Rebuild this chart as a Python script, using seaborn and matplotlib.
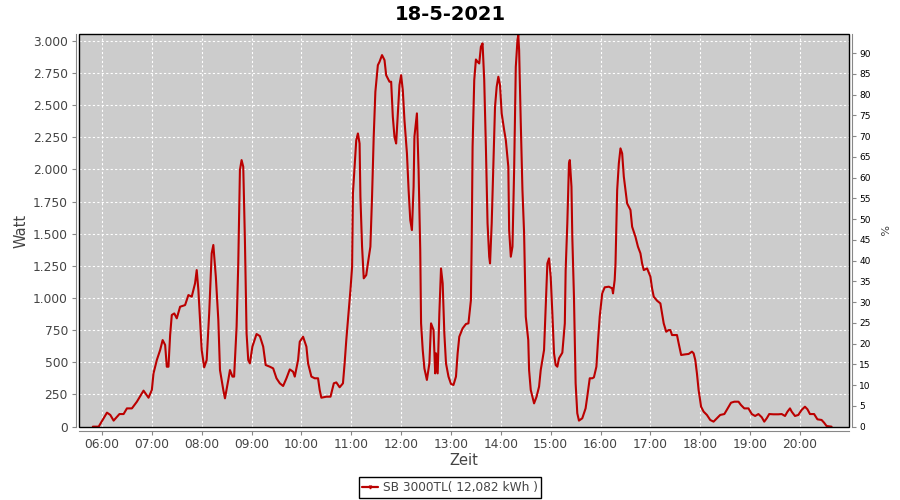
import pandas as pd
import matplotlib
matplotlib.use("Agg")
import matplotlib.pyplot as plt
import matplotlib.dates as mdates
from matplotlib.ticker import FuncFormatter, MultipleLocator
from matplotlib.patches import Rectangle
from matplotlib.lines import Line2D
import seaborn as sns

# Daten
tag = "2021-05-18"
titel = "18-5-2021"
legende = "SB 3000TL( 12,082 kWh )"
watt_pro_prozent = 32.26

zeit = [
    "05:49", "05:56", "06:06", "06:10", "06:14", "06:21", "06:26", "06:30", "06:36", "06:42", "06:50", "06:56",
    "07:00", "07:02", "07:06", "07:10", "07:13", "07:16", "07:18", "07:20", "07:22", "07:24", "07:27", "07:30",
    "07:34", "07:40", "07:44", "07:48", "07:52", "07:54", "07:56", "07:58",
    "08:00", "08:03", "08:06", "08:09", "08:12", "08:14", "08:17", "08:20", "08:22", "08:26", "08:28", "08:32",
    "08:34", "08:37", "08:39", "08:42", "08:44", "08:46", "08:48", "08:50", "08:52", "08:54", "08:56", "08:58",
    "09:01", "09:06", "09:10", "09:14", "09:17", "09:22", "09:26", "09:30", "09:34", "09:38", "09:42", "09:46",
    "09:50", "09:52", "09:56", "09:58",
    "10:02", "10:06", "10:08", "10:12", "10:16", "10:20", "10:22", "10:24", "10:30", "10:35", "10:39", "10:42",
    "10:46", "10:50", "10:52", "10:54", "10:56", "10:59",
    "11:01", "11:02", "11:04", "11:06", "11:08", "11:10", "11:11", "11:13", "11:15", "11:18", "11:20", "11:23",
    "11:25", "11:27", "11:29", "11:32", "11:34", "11:37", "11:40", "11:42", "11:46", "11:48", "11:50", "11:52",
    "11:54", "11:56", "11:58",
    "12:00", "12:02", "12:04", "12:07", "12:09", "12:11", "12:13", "12:15", "12:16", "12:19", "12:21", "12:23",
    "12:24", "12:26", "12:28", "12:31", "12:34", "12:36", "12:39", "12:41", "12:42", "12:44", "12:46", "12:48",
    "12:50", "12:52", "12:54", "12:57",
    "13:00", "13:03", "13:06", "13:08", "13:10", "13:14", "13:18", "13:21", "13:24", "13:25", "13:26", "13:28",
    "13:30", "13:32", "13:34", "13:36", "13:38", "13:40", "13:42", "13:44", "13:46", "13:47", "13:49", "13:51",
    "13:53", "13:55", "13:57", "13:59",
    "14:01", "14:04", "14:06", "14:09", "14:10", "14:12", "14:14", "14:16", "14:18", "14:20", "14:21", "14:22",
    "14:24", "14:26", "14:28", "14:30", "14:33", "14:34", "14:36", "14:40", "14:43", "14:46", "14:48", "14:52",
    "14:54", "14:56", "14:58",
    "15:00", "15:02", "15:04", "15:06", "15:08", "15:10", "15:14", "15:17", "15:18", "15:20", "15:22", "15:23",
    "15:25", "15:26", "15:28", "15:30", "15:32", "15:34", "15:38", "15:42", "15:44", "15:47", "15:50", "15:52",
    "15:55", "15:57", "15:59",
    "16:02", "16:05", "16:10", "16:14", "16:15", "16:17", "16:18", "16:20", "16:22", "16:24", "16:26", "16:28",
    "16:30", "16:32", "16:36", "16:38", "16:42", "16:45", "16:48", "16:50", "16:52", "16:56",
    "17:00", "17:02", "17:04", "17:08", "17:12", "17:14", "17:16", "17:19", "17:22", "17:24", "17:26", "17:32",
    "17:34", "17:37", "17:42", "17:46", "17:50", "17:52", "17:54", "17:56", "17:58",
    "18:01", "18:04", "18:08", "18:12", "18:16", "18:20", "18:24", "18:29", "18:33", "18:37", "18:41", "18:46",
    "18:49", "18:53", "18:58",
    "19:02", "19:06", "19:10", "19:14", "19:17", "19:20", "19:23", "19:28", "19:34", "19:38", "19:42", "19:45",
    "19:48", "19:50", "19:54", "19:58",
    "20:02", "20:06", "20:09", "20:12", "20:17", "20:21", "20:26", "20:29", "20:32", "20:38",
]

watt = [
    0, 0, 109, 91, 47, 98, 98, 142, 142, 194, 280, 225,
    285, 414, 518, 596, 673, 635, 466, 466, 712, 868, 880, 842,
    932, 945, 1023, 1010, 1114, 1217, 1062, 829,
    596, 461, 518, 880, 1347, 1412, 1166, 829, 440, 285, 220, 363,
    440, 389, 389, 777, 1269, 1994, 2072, 2020, 1450, 725, 518, 492,
    622, 720, 704, 622, 479, 466, 453, 376, 337, 316, 376, 445,
    427, 389, 518, 660,
    699, 622, 492, 389, 376, 376, 285, 225, 233, 233, 337, 344,
    306, 337, 492, 673, 829, 1062,
    1243, 1813, 2020, 2227, 2279, 2201, 1787, 1399, 1153, 1178, 1269, 1399,
    1787, 2253, 2603, 2810, 2836, 2888, 2849, 2732, 2681, 2681, 2409, 2253,
    2201, 2435, 2655,
    2732, 2616, 2383, 2124, 1839, 1606, 1528, 1865, 2253, 2435, 1994, 1373,
    803, 596, 453, 363, 492, 803, 751, 414, 570, 414, 880, 1230,
    1114, 725, 492, 389,
    332, 324, 389, 570, 699, 764, 798, 803, 984, 1476, 2176, 2694,
    2854, 2836, 2823, 2953, 2979, 2694, 2176, 1580, 1321, 1269, 1580, 2046,
    2486, 2642, 2720, 2655,
    2435, 2305, 2227, 2020, 1528, 1321, 1399, 1994, 2797, 3004, 3043, 2927,
    2357, 1839, 1502, 855, 673, 440, 285, 181, 233, 311, 440, 596,
    932, 1269, 1308,
    1166, 880, 570, 479, 466, 531, 575, 803, 1217, 1580, 2046, 2072,
    1865, 1476, 1010, 337, 104, 47, 65, 142, 233, 376, 376, 383,
    466, 673, 855,
    1036, 1083, 1088, 1075, 1036, 1140, 1269, 1839, 2046, 2163, 2124, 1943,
    1839, 1735, 1684, 1554, 1476, 1399, 1347, 1269, 1217, 1230,
    1166, 1075, 1010, 979, 958, 880, 803, 738, 751, 751, 712, 712,
    648, 557, 562, 565, 583, 570, 518, 414, 285,
    155, 117, 91, 52, 39, 65, 91, 98, 142, 186, 194, 194,
    168, 142, 142,
    98, 83, 98, 73, 39, 65, 98, 96, 96, 98, 83, 117,
    142, 117, 83, 91,
    130, 155, 135, 98, 98, 57, 52, 31, 5, 0,
]

df = pd.DataFrame({"Zeit": pd.to_datetime([tag + " " + z for z in zeit]), "Watt": watt})

sns.set_style("darkgrid", {"axes.facecolor": "#CCCCCC"})
plt.rcParams["font.family"] = ["DejaVu Sans"]

rot = "#BB0000"
grau = "#444444"
achse = "#888888"

fig = plt.figure(figsize=(9, 5), dpi=100)
fig.patch.set_facecolor("white")
ax = fig.add_axes([79 / 900, 1 - 427.3 / 500, 770 / 900, 393.3 / 500])

sns.lineplot(data=df, x="Zeit", y="Watt", ax=ax, color=rot, linewidth=1.5,
             estimator=None, sort=False, legend=False)

ax.set_xlim(pd.Timestamp(tag + " 05:32:20"), pd.Timestamp(tag + " 20:59:00"))
ax.set_ylim(-5, 3052)
ax.xaxis.set_major_locator(mdates.HourLocator())
ax.xaxis.set_major_formatter(mdates.DateFormatter("%H:%M"))
ax.yaxis.set_major_locator(MultipleLocator(250))
ax.yaxis.set_major_formatter(FuncFormatter(lambda v, p: f"{v:,.0f}".replace(",", ".")))
ax.grid(True, color="white", linestyle=(0, (2, 2)), linewidth=0.8)

for s in ["top", "right"]:
    ax.spines[s].set_visible(False)
for s in ["left", "bottom"]:
    ax.spines[s].set_visible(True)
    ax.spines[s].set_color(achse)
    ax.spines[s].set_linewidth(0.8)
    ax.spines[s].set_position(("outward", 2.5))
ax.tick_params(axis="both", colors=achse, labelcolor=grau, length=3, width=0.8,
               labelsize=8.8, pad=2.5, direction="out")
ax.tick_params(axis="both", which="both", bottom=True, left=True)

ax.set_xlabel("Zeit", fontsize=10.5, color=grau, labelpad=1.5)
ax.set_ylabel("Watt", fontsize=10.5, color=grau, labelpad=3)

# rechte Achse in Prozent
ax2 = ax.twinx()
lo, hi = ax.get_ylim()
ax2.set_ylim(lo / watt_pro_prozent, hi / watt_pro_prozent)
ax2.yaxis.set_major_locator(MultipleLocator(5))
ax2.grid(False)
for s in ["top", "left", "bottom"]:
    ax2.spines[s].set_visible(False)
ax2.spines["right"].set_visible(True)
ax2.spines["right"].set_color(achse)
ax2.spines["right"].set_linewidth(0.8)
ax2.spines["right"].set_position(("outward", 2.5))
ax2.tick_params(axis="y", colors=achse, labelcolor="black", length=3, width=0.8,
                labelsize=6.5, pad=2, direction="out", right=True)
ax2.set_ylabel("%", fontsize=8, color=grau, labelpad=5, rotation=-90, va="bottom")

# schwarzer Rahmen um den Plotbereich
ax2.add_patch(Rectangle((0, 0), 1, 1, transform=ax2.transAxes, fill=False,
                        edgecolor="black", linewidth=1.0, clip_on=False, zorder=10))

fig.suptitle(titel, x=0.5, y=0.99, fontsize=14, fontweight="bold", color="black", va="top")

handle = Line2D([], [], color=rot, linewidth=1.6, marker="v", markersize=2)
leg = fig.legend([handle], [legende], loc="center", bbox_to_anchor=(0.5, 0.025),
                 fontsize=8.7, frameon=True, fancybox=False, framealpha=1,
                 facecolor="white", edgecolor="black", handlelength=1.3,
                 handletextpad=0.4, borderpad=0.3, borderaxespad=0)
leg.get_frame().set_linewidth(1.0)
for t in leg.get_texts():
    t.set_color(grau)

fig.savefig("out.png", dpi=100)
